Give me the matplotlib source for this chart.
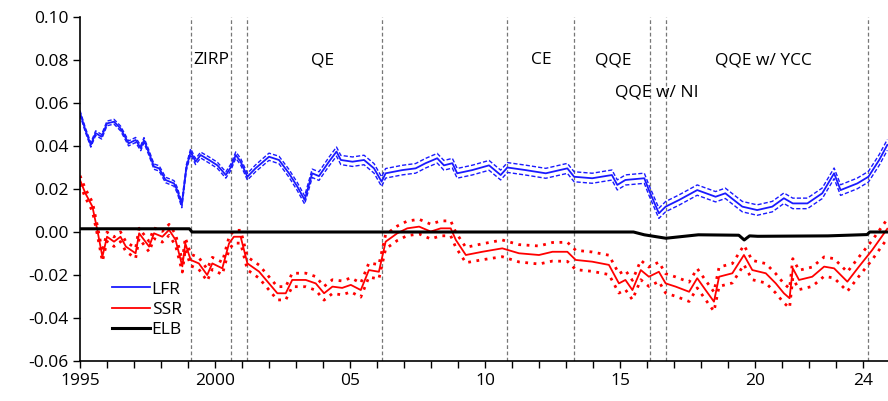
import matplotlib
matplotlib.use("Agg")
import matplotlib.pyplot as plt
import numpy as np

plt.rcParams['font.family'] = ['Open Sans', 'DejaVu Sans']

lfr_t = [1995.0,1995.2,1995.4,1995.58,1995.8,1996.0,1996.26,1996.5,1996.8,1997.06,1997.25,1997.37,1997.56,1997.74,1997.93,1998.17,1998.48,1998.6,1998.77,1998.94,1999.1,1999.28,1999.47,1999.78,2000.09,2000.4,2000.58,2000.77,2000.95,2001.2,2001.5,2002.0,2002.37,2002.74,2003.05,2003.32,2003.6,2003.85,2004.22,2004.5,2004.66,2005.09,2005.52,2005.89,2006.17,2006.32,2006.94,2007.43,2007.8,2008.23,2008.48,2008.79,2008.97,2009.53,2010.15,2010.58,2010.83,2011.5,2012.25,2013.05,2013.3,2013.97,2014.7,2014.9,2015.2,2015.9,2016.07,2016.44,2016.69,2017.19,2017.86,2018.54,2018.9,2019.53,2020.08,2020.64,2021.07,2021.4,2021.94,2022.49,2022.93,2023.17,2023.79,2024.2,2024.6,2024.9]
lfr_v = [.0555,.0474,.0405,.046,.0443,.0505,.0513,.0482,.0412,.0428,.039,.0427,.0366,.0304,.0296,.0242,.0226,.0195,.0126,.030,.0374,.0327,.0358,.0335,.031,.0265,.030,.0358,.0327,.0257,.0296,.035,.0335,.0273,.0211,.0149,.0273,.026,.0327,.0374,.0335,.0327,.0335,.0296,.0234,.0273,.0288,.0296,.032,.0343,.031,.032,.0273,.0288,.031,.0265,.030,.0288,.0273,.0296,.0257,.025,.0265,.0219,.0242,.025,.0195,.0087,.0118,.0149,.0195,.0164,.018,.0118,.0102,.0118,.0157,.0133,.0133,.018,.0273,.0195,.0226,.0257,.0335,.0405]
lfr_hw_t = [1995.0, 2001.0, 2005.0, 2024.9]
lfr_hw_v = [0.0010, 0.0015, 0.0022, 0.0025]

ssr_t = [1995.0,1995.2,1995.46,1995.64,1995.83,1996.0,1996.26,1996.5,1996.7,1997.06,1997.19,1997.56,1997.74,1998.05,1998.3,1998.54,1998.79,1998.9,1999.1,1999.4,1999.71,1999.9,2000.27,2000.52,2000.7,2000.95,2001.2,2001.63,2002.31,2002.62,2002.86,2003.36,2003.73,2004.04,2004.35,2004.71,2005.03,2005.4,2005.7,2006.07,2006.32,2006.75,2007.12,2007.56,2007.99,2008.36,2008.73,2008.92,2009.29,2009.9,2010.64,2011.26,2012.0,2012.5,2013.05,2013.36,2013.97,2014.59,2014.96,2015.2,2015.46,2015.77,2016.07,2016.44,2016.69,2017.06,2017.56,2017.86,2018.17,2018.48,2018.67,2019.16,2019.59,2019.9,2020.4,2020.77,2021.07,2021.28,2021.4,2021.63,2022.12,2022.56,2022.93,2023.42,2023.85,2024.34,2024.9]
ssr_v = [.0242,.018,.0118,.001,-.0115,-.0022,-.0045,-.0022,-.0068,-.0099,-.0006,-.0068,-.0006,-.0022,.001,-.0037,-.016,-.0053,-.013,-.0146,-.020,-.0146,-.0169,-.0053,-.0022,-.0022,-.0146,-.0184,-.0285,-.0285,-.0223,-.0223,-.0239,-.0285,-.0254,-.026,-.0246,-.027,-.0177,-.0185,-.0045,-.0006,.0017,.0025,.0002,.0017,.0017,-.0037,-.0107,-.0092,-.0076,-.0099,-.0107,-.0092,-.0092,-.013,-.0138,-.0153,-.0239,-.0223,-.027,-.0177,-.0208,-.0185,-.0239,-.0254,-.0278,-.0215,-.027,-.0324,-.0208,-.0192,-.0107,-.0177,-.0192,-.0239,-.0285,-.0308,-.0169,-.0223,-.0208,-.0161,-.0169,-.0231,-.0161,-.0084,.0015]
ssr_hw_t = [1995.0, 2001.0, 2009.0, 2013.3, 2024.9]
ssr_hw_v = [0.0020, 0.0030, 0.0035, 0.0045, 0.0045]

elb_t = [1995.0,1999.05,1999.15,2015.5,2015.9,2016.7,2017.9,2019.4,2019.6,2019.8,2020.1,2022.7,2024.15,2024.25,2024.9]
elb_v = [.0015,.0015,0.0,0.0,-.0013,-.0029,-.0013,-.0015,-.0037,-.0018,-.002,-.0018,-.0012,0.0,0.0]

regime_dates = [1999.1,2000.6,2001.2,2006.2,2010.8,2013.3,2016.1,2016.7,2024.2]
regime_labels = [("ZIRP",1999.85,0.08),("QE",2004.0,0.08),("CE",2012.1,0.08),("QQE",2014.75,0.08),("QQE w/ NI",2016.35,0.065),("QQE w/ YCC",2020.3,0.08)]
xticks = [1995,2000,2005,2010,2015,2020,2024]
xticklabels = ["1995","2000","05","10","15","20","24"]

fig = plt.figure(figsize=(8.88,4.01), dpi=100)
ax = fig.add_axes([80/888, 40/401, 808/888, 344/401])
ax.set_xlim(1995.0, 1995.0 + 808/27)
ax.set_ylim(-0.06, 0.10)

lt = np.array(lfr_t); lv = np.array(lfr_v)
lhw = np.interp(lt, lfr_hw_t, lfr_hw_v)
st = np.array(ssr_t); sv = np.array(ssr_v)
shw = np.interp(st, ssr_hw_t, ssr_hw_v)

for d in regime_dates:
    ax.axvline(d, color='#777777', ls=(0,(3,2)), lw=0.9, zorder=1)

ax.plot(lt, lv+lhw, color='#1a1aff', ls=(0,(3,1.5)), lw=1.0)
ax.plot(lt, lv-lhw, color='#1a1aff', ls=(0,(3,1.5)), lw=1.0)
ax.plot(lt, lv, color='#1a1aff', lw=1.3, label='LFR')
ax.plot(st, sv+shw, color='#ff0000', ls=(0,(1,2)), lw=2.0)
ax.plot(st, sv-shw, color='#ff0000', ls=(0,(1,2)), lw=2.0)
ax.plot(st, sv, color='#ff0000', lw=1.3, label='SSR')
ax.plot(elb_t, elb_v, color='black', lw=2.2, label='ELB')

for txt, x, y in regime_labels:
    ax.text(x, y, txt, ha='center', va='center', fontsize=12.5)

ax.set_xticks(xticks)
ax.set_xticklabels(xticklabels)
ax.set_xticks(np.arange(1995, 2025), minor=True)
ax.set_yticks(np.arange(-0.06, 0.1001, 0.02))
ax.set_yticklabels([f"{v:.2f}" for v in np.arange(-0.06, 0.1001, 0.02)])
ax.tick_params(axis='both', labelsize=12.5, direction='out', length=5, width=1)
ax.tick_params(axis='x', which='minor', length=5, width=1)
for s in ['top','right']:
    ax.spines[s].set_visible(False)
ax.spines['left'].set_linewidth(1.2)
ax.spines['bottom'].set_linewidth(1.2)
ax.legend(loc='lower left', bbox_to_anchor=(0.02, 0.02), frameon=False, fontsize=12.5,
          handlelength=2.2, handletextpad=0.1, labelspacing=0.25)
fig.savefig("out.png", dpi=100)
